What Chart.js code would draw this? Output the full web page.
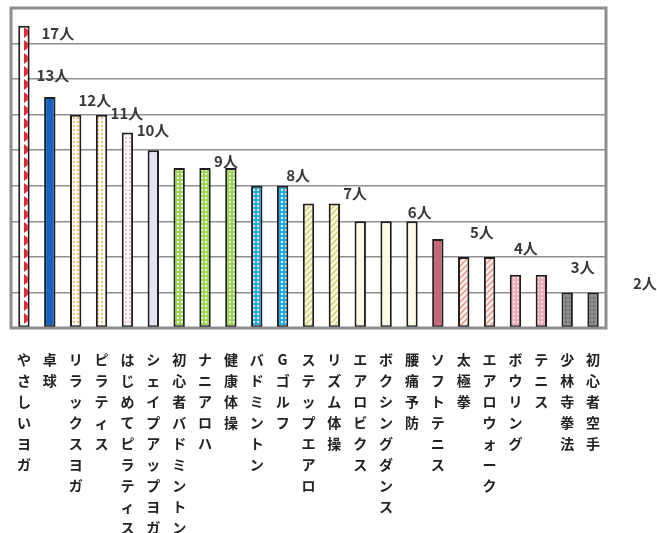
<!DOCTYPE html>
<html>
<head>
<meta charset="utf-8">
<script src="https://cdn.jsdelivr.net/npm/chart.js@4"></script>
<style>
  html, body { margin: 0; padding: 0; background: #fff; }
  #wrap { width: 657px; height: 533px; position: relative; }
</style>
</head>
<body>
<div id="wrap"><canvas id="chart"></canvas></div>
<script>
// categories and member counts
const categories = [
  "やさしいヨガ", "卓球", "リラックスヨガ", "ピラティス", "はじめてピラティス",
  "シェイプアップヨガ", "初心者バドミントン", "ナニアロハ", "健康体操", "バドミントン",
  "Gゴルフ", "ステップエアロ", "リズム体操", "エアロビクス", "ボクシングダンス",
  "腰痛予防", "ソフトテニス", "太極拳", "エアロウォーク", "ボウリング",
  "テニス", "少林寺拳法", "初心者空手"
];
const members = [17, 13, 12, 12, 11, 10, 9, 9, 9, 8, 8, 7, 7, 6, 6, 6, 5, 4, 4, 3, 3, 2, 2];

// the "n人" notes written over the bars
const noteTexts = ["17人", "13人", "12人", "11人", "10人", "9人", "8人", "7人", "6人", "5人", "4人", "3人", "2人"];

// where each note sits (category index, value level) - they drift right in the original
const noteIdx = [1.31, 1.12, 2.74, 3.98, 4.99, 7.81, 10.6, 12.8, 15.3, 17.7, 19.4, 21.6, 24.0];
const noteLevel = [16.6, 14.2, 12.8, 12.1, 11.1, 9.4, 8.6, 7.6, 6.5, 5.4, 4.5, 3.4, 2.5];

// little tile patterns for the bar fills
function makePattern(w, h, paint) {
  const c = document.createElement("canvas");
  c.width = w;
  c.height = h;
  const g = c.getContext("2d");
  paint(g, w, h);
  return g.createPattern(c, "repeat");
}

const triRed = makePattern(12, 13, (g, w, h) => {
  g.fillStyle = "#fff";
  g.fillRect(0, 0, w, h);
  g.fillStyle = "#e8262e";
  g.beginPath();
  g.moveTo(0, 1);
  g.lineTo(7, 6.5);
  g.lineTo(0, 12);
  g.closePath();
  g.fill();
});
const dotsOn = (bg, fg, size) => makePattern(4, 4, (g, w, h) => {
  g.fillStyle = bg;
  g.fillRect(0, 0, w, h);
  g.fillStyle = fg;
  g.fillRect(1, 1, size, size);
});
const hatch = (bg, fg) => makePattern(6, 6, (g, w, h) => {
  g.fillStyle = bg;
  g.fillRect(0, 0, w, h);
  g.strokeStyle = fg;
  g.lineWidth = 1.6;
  g.beginPath();
  g.moveTo(0, 6);
  g.lineTo(6, 0);
  g.moveTo(-3, 3);
  g.lineTo(3, -3);
  g.moveTo(3, 9);
  g.lineTo(9, 3);
  g.stroke();
});

const orangeDots = dotsOn("#fffaf0", "#f4c27a", 2);
const pinkDots = dotsOn("#fff8fb", "#f2c4d8", 2);
const greenDots = dotsOn("#9fd45a", "#e9f7d0", 2);
const cyanDots = dotsOn("#27a9de", "#d8f1fb", 2);
const yellowHatch = hatch("#fbfbe4", "#d8d37a");
const peachHatch = hatch("#fff4f0", "#ee9a8c");
const roseDots = dotsOn("#f3aab6", "#fde3e8", 2);
const grayDots = dotsOn("#8c8c8c", "#6a6a6a", 2);

const barFills = [
  triRed, "#1662c4", orangeDots, orangeDots, pinkDots,
  "#e6e2f4", greenDots, greenDots, greenDots, cyanDots,
  cyanDots, yellowHatch, yellowHatch, "#fffbe6", "#fffbe6",
  "#fffbe6", "#c56676", peachHatch, peachHatch, roseDots,
  roseDots, grayDots, grayDots
];

const FONT = "'Noto Sans CJK JP', 'Noto Sans', sans-serif";

// frame round the plot and the loose notes
const framePlugin = {
  id: "frame",
  afterDatasetsDraw(chart) {
    const { ctx, chartArea: a, scales } = chart;
    ctx.save();
    ctx.strokeStyle = "#8d8d8d";
    ctx.lineWidth = 3;
    ctx.strokeRect(a.left, a.top, a.right - a.left, a.bottom - a.top);
    ctx.restore();

    ctx.save();
    ctx.font = "bold 15px " + FONT;
    ctx.fillStyle = "#383838";
    ctx.textAlign = "center";
    ctx.textBaseline = "middle";
    noteTexts.forEach((t, i) => {
      const x = scales.x.getPixelForValue(noteIdx[i]);
      const y = scales.y.getPixelForValue(noteLevel[i]);
      ctx.fillText(t, x, y);
    });
    ctx.restore();
  }
};

new Chart(document.getElementById("chart"), {
  type: "bar",
  data: {
    // split each name so it stacks vertically, one char per line
    labels: categories.map((c) => c.split("")),
    datasets: [{
      data: members,
      backgroundColor: barFills,
      borderColor: "#1e1e1e",
      borderWidth: 2,
      borderSkipped: false,
      barPercentage: 0.44,
      categoryPercentage: 1
    }]
  },
  options: {
    responsive: true,
    maintainAspectRatio: false,
    animation: false,
    layout: { padding: { left: 11, top: 8, right: 51, bottom: -18 } },
    plugins: {
      legend: { display: false },
      tooltip: { enabled: false }
    },
    scales: {
      x: {
        grid: { display: false },
        border: { display: false },
        ticks: {
          autoSkip: false,
          maxRotation: 0,
          minRotation: 0,
          padding: 13,
          color: "#222",
          font: { family: FONT, size: 14, weight: "bold", lineHeight: 1.5 }
        }
      },
      y: {
        min: 0,
        max: 18,
        ticks: { display: false, stepSize: 2 },
        grid: { color: "#8f8f8f", lineWidth: 1.5, drawTicks: false },
        border: { display: false }
      }
    }
  },
  plugins: [framePlugin]
});
</script>
</body>
</html>
